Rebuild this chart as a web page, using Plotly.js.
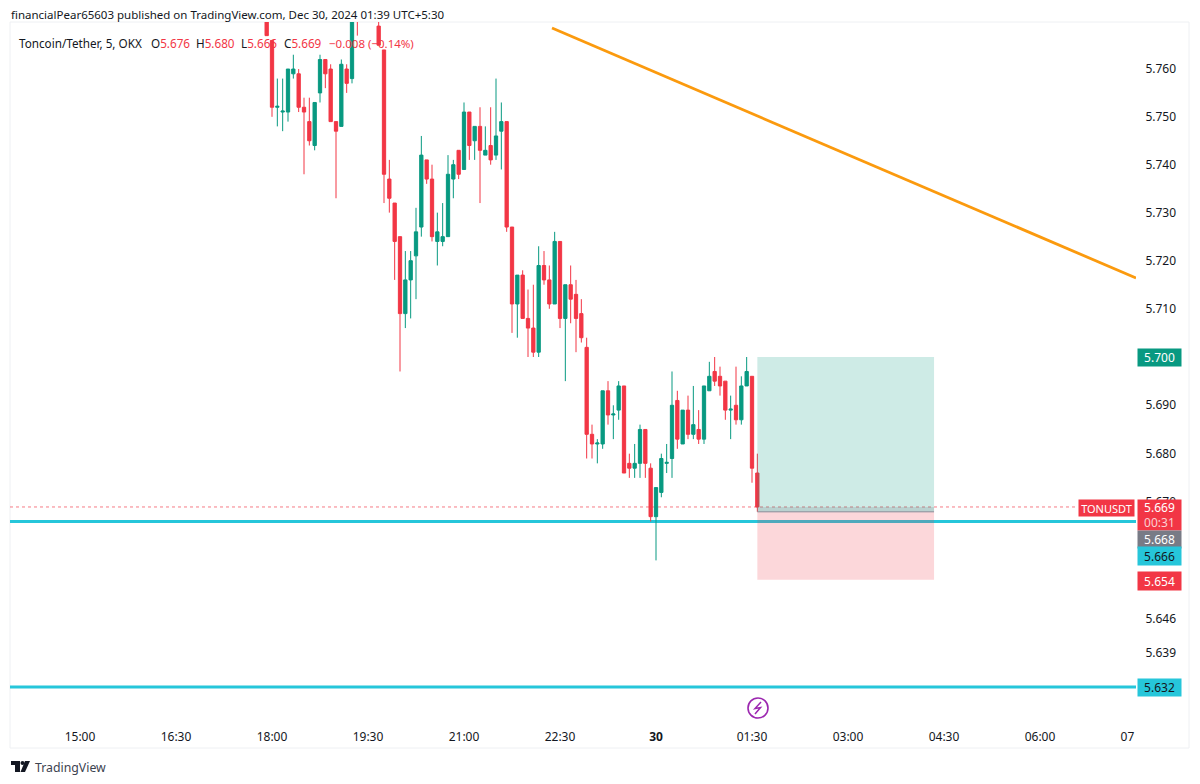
<!DOCTYPE html>
<html><head><meta charset="utf-8">
<script src="https://cdn.plot.ly/plotly-3.0.1.min.js"></script>
<style>html,body{margin:0;padding:0;background:#fff}#c{width:1200px;height:784px}</style>
</head><body><div id="c"></div>
<script>
const D1 = '2024-12-29 ', D2 = '2024-12-30 ';
const timesDay1 = ['17:55','18:00','18:05','18:10','18:15','18:20','18:25','18:30','18:35','18:40',
 '18:45','18:50','18:55','19:00','19:05','19:10','19:15','19:20','19:40','19:45',
 '19:50','19:55','20:00','20:05','20:10','20:15','20:20','20:25','20:30','20:35',
 '20:40','20:45','20:50','20:55','21:00','21:05','21:10','21:15','21:20','21:25',
 '21:30','21:35','21:40','21:45','21:50','21:55','22:00','22:05','22:10','22:15',
 '22:20','22:25','22:30','22:35','22:40','22:45','22:50','22:55','23:00','23:05',
 '23:10','23:15','23:20','23:25','23:30','23:35','23:40','23:45','23:50','23:55'];
const timesDay2 = ['00:00','00:05','00:10','00:15','00:20','00:25','00:30','00:35','00:40','00:45',
 '00:50','00:55','01:00','01:05','01:10','01:15','01:20','01:25','01:30','01:35'];
const opens = [5.772,5.766,5.752,5.751,5.751,5.759,5.759,5.752,5.749,5.744,
 5.755,5.762,5.760,5.749,5.748,5.760,5.758,5.775,5.769,5.764,
 5.737,5.732,5.725,5.709,5.716,5.721,5.727,5.741,5.737,5.724,
 5.724,5.725,5.737,5.743,5.739,5.751,5.745,5.748,5.742,5.744,
 5.742,5.747,5.749,5.727,5.711,5.717,5.708,5.706,5.701,5.719,
 5.716,5.711,5.724,5.708,5.715,5.713,5.709,5.702,5.684,5.682,
 5.682,5.693,5.688,5.689,5.694,5.678,5.677,5.678,5.685,5.677,
 5.667,5.672,5.678,5.679,5.691,5.682,5.689,5.684,5.685,5.683,
 5.693,5.697,5.696,5.695,5.689,5.690,5.687,5.694,5.696,5.676];
const highs = [5.773,5.766,5.758,5.758,5.760,5.763,5.760,5.754,5.754,5.753,
 5.763,5.762,5.761,5.749,5.762,5.761,5.772,5.776,5.770,5.764,
 5.741,5.732,5.725,5.722,5.722,5.731,5.746,5.741,5.740,5.730,
 5.732,5.742,5.741,5.743,5.753,5.751,5.748,5.752,5.748,5.752,
 5.758,5.753,5.749,5.727,5.717,5.718,5.714,5.715,5.723,5.722,
 5.719,5.726,5.724,5.715,5.719,5.716,5.712,5.704,5.686,5.683,
 5.693,5.695,5.690,5.695,5.694,5.680,5.682,5.686,5.685,5.678,
 5.673,5.680,5.682,5.697,5.693,5.689,5.692,5.694,5.689,5.694,
 5.699,5.700,5.698,5.695,5.692,5.698,5.696,5.700,5.696,5.680];
const lows = [5.767,5.750,5.748,5.747,5.749,5.758,5.751,5.738,5.744,5.743,
 5.753,5.756,5.749,5.733,5.748,5.755,5.757,5.767,5.765,5.732,
 5.730,5.716,5.697,5.706,5.708,5.712,5.725,5.736,5.724,5.719,
 5.723,5.725,5.733,5.737,5.739,5.741,5.741,5.732,5.742,5.740,
 5.741,5.739,5.726,5.705,5.704,5.708,5.700,5.700,5.700,5.715,
 5.710,5.711,5.706,5.695,5.707,5.701,5.703,5.679,5.679,5.678,
 5.681,5.686,5.683,5.687,5.676,5.675,5.675,5.675,5.675,5.666,
 5.658,5.671,5.676,5.675,5.681,5.682,5.683,5.683,5.682,5.682,
 5.693,5.694,5.692,5.687,5.683,5.686,5.686,5.694,5.674,5.668];
const closes = [5.767,5.752,5.7522,5.7512,5.760,5.760,5.752,5.751,5.745,5.753,
 5.762,5.759,5.749,5.747,5.761,5.757,5.771,5.771,5.765,5.738,
 5.733,5.724,5.709,5.716,5.720,5.726,5.742,5.737,5.725,5.726,
 5.725,5.738,5.740,5.738,5.751,5.744,5.748,5.743,5.743,5.741,
 5.746,5.749,5.727,5.711,5.717,5.708,5.706,5.701,5.719,5.716,
 5.711,5.724,5.708,5.715,5.712,5.708,5.704,5.684,5.682,5.6822,
 5.693,5.688,5.6882,5.694,5.676,5.677,5.678,5.685,5.678,5.667,
 5.673,5.679,5.6782,5.690,5.683,5.689,5.684,5.686,5.683,5.694,
 5.696,5.695,5.694,5.689,5.6892,5.687,5.694,5.697,5.677,5.669];
const tickTimes = ['2024-12-29 15:00','2024-12-29 16:30','2024-12-29 18:00','2024-12-29 19:30','2024-12-29 21:00','2024-12-29 22:30','2024-12-30 00:00','2024-12-30 01:30','2024-12-30 03:00','2024-12-30 04:30','2024-12-30 06:00','2024-12-30 07:22'];
const tickTexts = ['15:00','16:30','18:00','19:30','21:00','22:30','<b>30</b>','01:30','03:00','04:30','06:00','07'];
const priceTicks = [5.76,5.75,5.74,5.73,5.72,5.71,5.69,5.68,5.67,5.646,5.639];
const target = 5.700, entry = 5.668, stop = 5.654, last = 5.669, support1 = 5.666, support2 = 5.632;
const trendTimes = ['2024-12-29 22:22:30','2024-12-30 07:30'], trendPrices = [5.7686,5.7164];
const posTimes = ['2024-12-30 01:35','2024-12-30 04:20:40'];
const xRange = ['2024-12-29 13:54:22','2024-12-30 07:30'];
const UP='#089981', DOWN='#f23645', CYAN='#26c6da', GREY='#787b86', INK='#131722';
const F = 'Noto Sans, sans-serif';

const L=10,R=1136,T=22,B=723;
const px = X => (X-L)/(R-L), py = Y => (B-Y)/(B-T);
const pts = a => 'M'+a.map(p=>px(p[0])+','+py(p[1])).join(' L')+' Z';

const xs = timesDay1.map(t=>D1+t).concat(timesDay2.map(t=>D2+t));
const trace = {type:'candlestick',x:xs,open:opens,high:highs,low:lows,close:closes,
  increasing:{line:{color:UP,width:1},fillcolor:UP},decreasing:{line:{color:DOWN,width:1},fillcolor:DOWN},
  whiskerwidth:0,hoverinfo:'skip',showlegend:false};

const hline = (p,c,w,d,x1)=>({type:'line',xref:'paper',yref:'y',x0:0,x1:x1||1,y0:p,y1:p,line:{color:c,width:w,dash:d||'solid'},layer:'below'});
const shapes = [
  {type:'rect',xref:'paper',yref:'paper',x0:px(10),x1:px(1189),y0:py(748),y1:py(22),line:{color:'#eef0f3',width:1},fillcolor:'rgba(0,0,0,0)',layer:'below'},
  hline(support1,CYAN,3), hline(support2,CYAN,3), hline(last,'rgba(242,54,69,0.65)',1,'dot',px(1078)),
  {type:'line',xref:'x',yref:'y',x0:trendTimes[0],x1:trendTimes[1],y0:trendPrices[0],y1:trendPrices[1],line:{color:'#fb9a0e',width:2.8}},
  {type:'rect',xref:'x',yref:'y',x0:posTimes[0],x1:posTimes[1],y0:entry,y1:target,fillcolor:'rgba(8,153,129,0.2)',line:{width:0}},
  {type:'rect',xref:'x',yref:'y',x0:posTimes[0],x1:posTimes[1],y0:stop,y1:entry,fillcolor:'rgba(242,54,69,0.2)',line:{width:0}},
  {type:'rect',xref:'x',yref:'y',x0:posTimes[0],x1:posTimes[1],y0:entry,y1:last,fillcolor:'rgba(120,123,134,0.22)',line:{width:0}},
  {type:'line',xref:'x',yref:'y',x0:posTimes[0],x1:posTimes[1],y0:entry,y1:entry,line:{color:'#8a8d98',width:1}},
  {type:'circle',xref:'paper',yref:'paper',x0:px(748),x1:px(768),y0:py(718),y1:py(698),line:{color:'#9c27b0',width:1.6},fillcolor:'#fff'},
  {type:'path',xref:'paper',yref:'paper',path:'M'+[[761,702],[755,708.5],[760.5,707.5],[755,714]].map(p=>px(p[0])+','+py(p[1])).join(' L'),line:{color:'#9c27b0',width:1.5}},
  {type:'path',xref:'paper',yref:'paper',path:pts([[11,761],[20,761],[20,772],[15,772],[15,765],[11,765]]),fillcolor:INK,line:{width:0}},
  {type:'circle',xref:'paper',yref:'paper',x0:px(20.5),x1:px(24.5),y0:py(765),y1:py(761),fillcolor:INK,line:{width:0}},
  {type:'path',xref:'paper',yref:'paper',path:pts([[25,761],[30,761],[25,772],[20.5,772]]),fillcolor:INK,line:{width:0}}
];

const txt = (text,X,Y,size,color,extra)=>Object.assign({text,xref:'paper',yref:'paper',x:px(X),y:py(Y),xanchor:'left',yanchor:'middle',showarrow:false,font:{family:F,size,color},borderpad:0},extra||{});
const tag = (text,Y,h,bg,color)=>txt(text,1137,Y,12,color,{width:43,height:h,bgcolor:bg,align:'center',valign:'middle'});
const y4 = p => 357 + 27500*Math.log(5.7/p);
const r = s=>`<span style="color:${DOWN}">${s}</span>`;
const annotations = [
  txt('financialPear65603 published on TradingView.com, Dec 30, 2024 01:39 UTC+5:30',10,15,11.5,INK),
  txt('Toncoin/Tether, 5, OKX',18,43,11.7,INK),
  txt('O'+r('5.676'),150,43,11.7,INK),
  txt('H'+r('5.680'),195,43,11.7,INK),
  txt('L'+r('5.666'),240,43,11.7,INK),
  txt('C'+r('5.669'),283,43,11.7,INK),
  txt(r('−0.008 (−0.14%)'),328,43,11.5,INK),
  txt('TradingView',34,767,12.3,'#3d4350'),
  txt('TONUSDT',1078,508,11,'#fff',{width:55,height:16,bgcolor:DOWN,align:'center',valign:'middle'}),
  tag(target.toFixed(3),y4(target),17,UP,'#fff'),
  tag(last.toFixed(3)+'<br><span style="color:#fbd0d3">00:31</span>',515,30,DOWN,'#fff'),
  tag(entry.toFixed(3),539,17,GREY,'#fff'),
  tag(support1.toFixed(3),556,18,CYAN,INK),
  tag(stop.toFixed(3),581,18,DOWN,'#fff'),
  tag(support2.toFixed(3),y4(support2),17,CYAN,INK)
];

const layout = {
  width:1200,height:784,margin:{l:L,r:1200-R,t:T,b:784-B},
  paper_bgcolor:'#fff',plot_bgcolor:'#fff',showlegend:false,dragmode:false,
  font:{family:F,size:12,color:INK},
  xaxis:{type:'date',range:xRange,rangeslider:{visible:false},showgrid:false,zeroline:false,showline:false,
    tickmode:'array',tickvals:tickTimes,ticktext:tickTexts,ticks:'outside',ticklen:3,tickcolor:'rgba(0,0,0,0)',tickfont:{family:F,size:12,color:INK},tickangle:0},
  yaxis:{type:'log',side:'right',showgrid:false,zeroline:false,showline:false,
    tickmode:'array',tickvals:priceTicks,ticktext:priceTicks.map(v=>v.toFixed(3)),
    ticks:'outside',ticklen:6,tickcolor:'rgba(0,0,0,0)',tickfont:{family:F,size:12,color:INK}},
  boxgap:0.12,shapes,annotations
};
const base = Math.log10(5.7), perDecade = 27500*Math.LN10;
layout.yaxis.range = [base-(B-357)/perDecade, base+(357-T)/perDecade];
Plotly.newPlot('c',[trace],layout,{displayModeBar:false,staticPlot:true});
</script></body></html>
